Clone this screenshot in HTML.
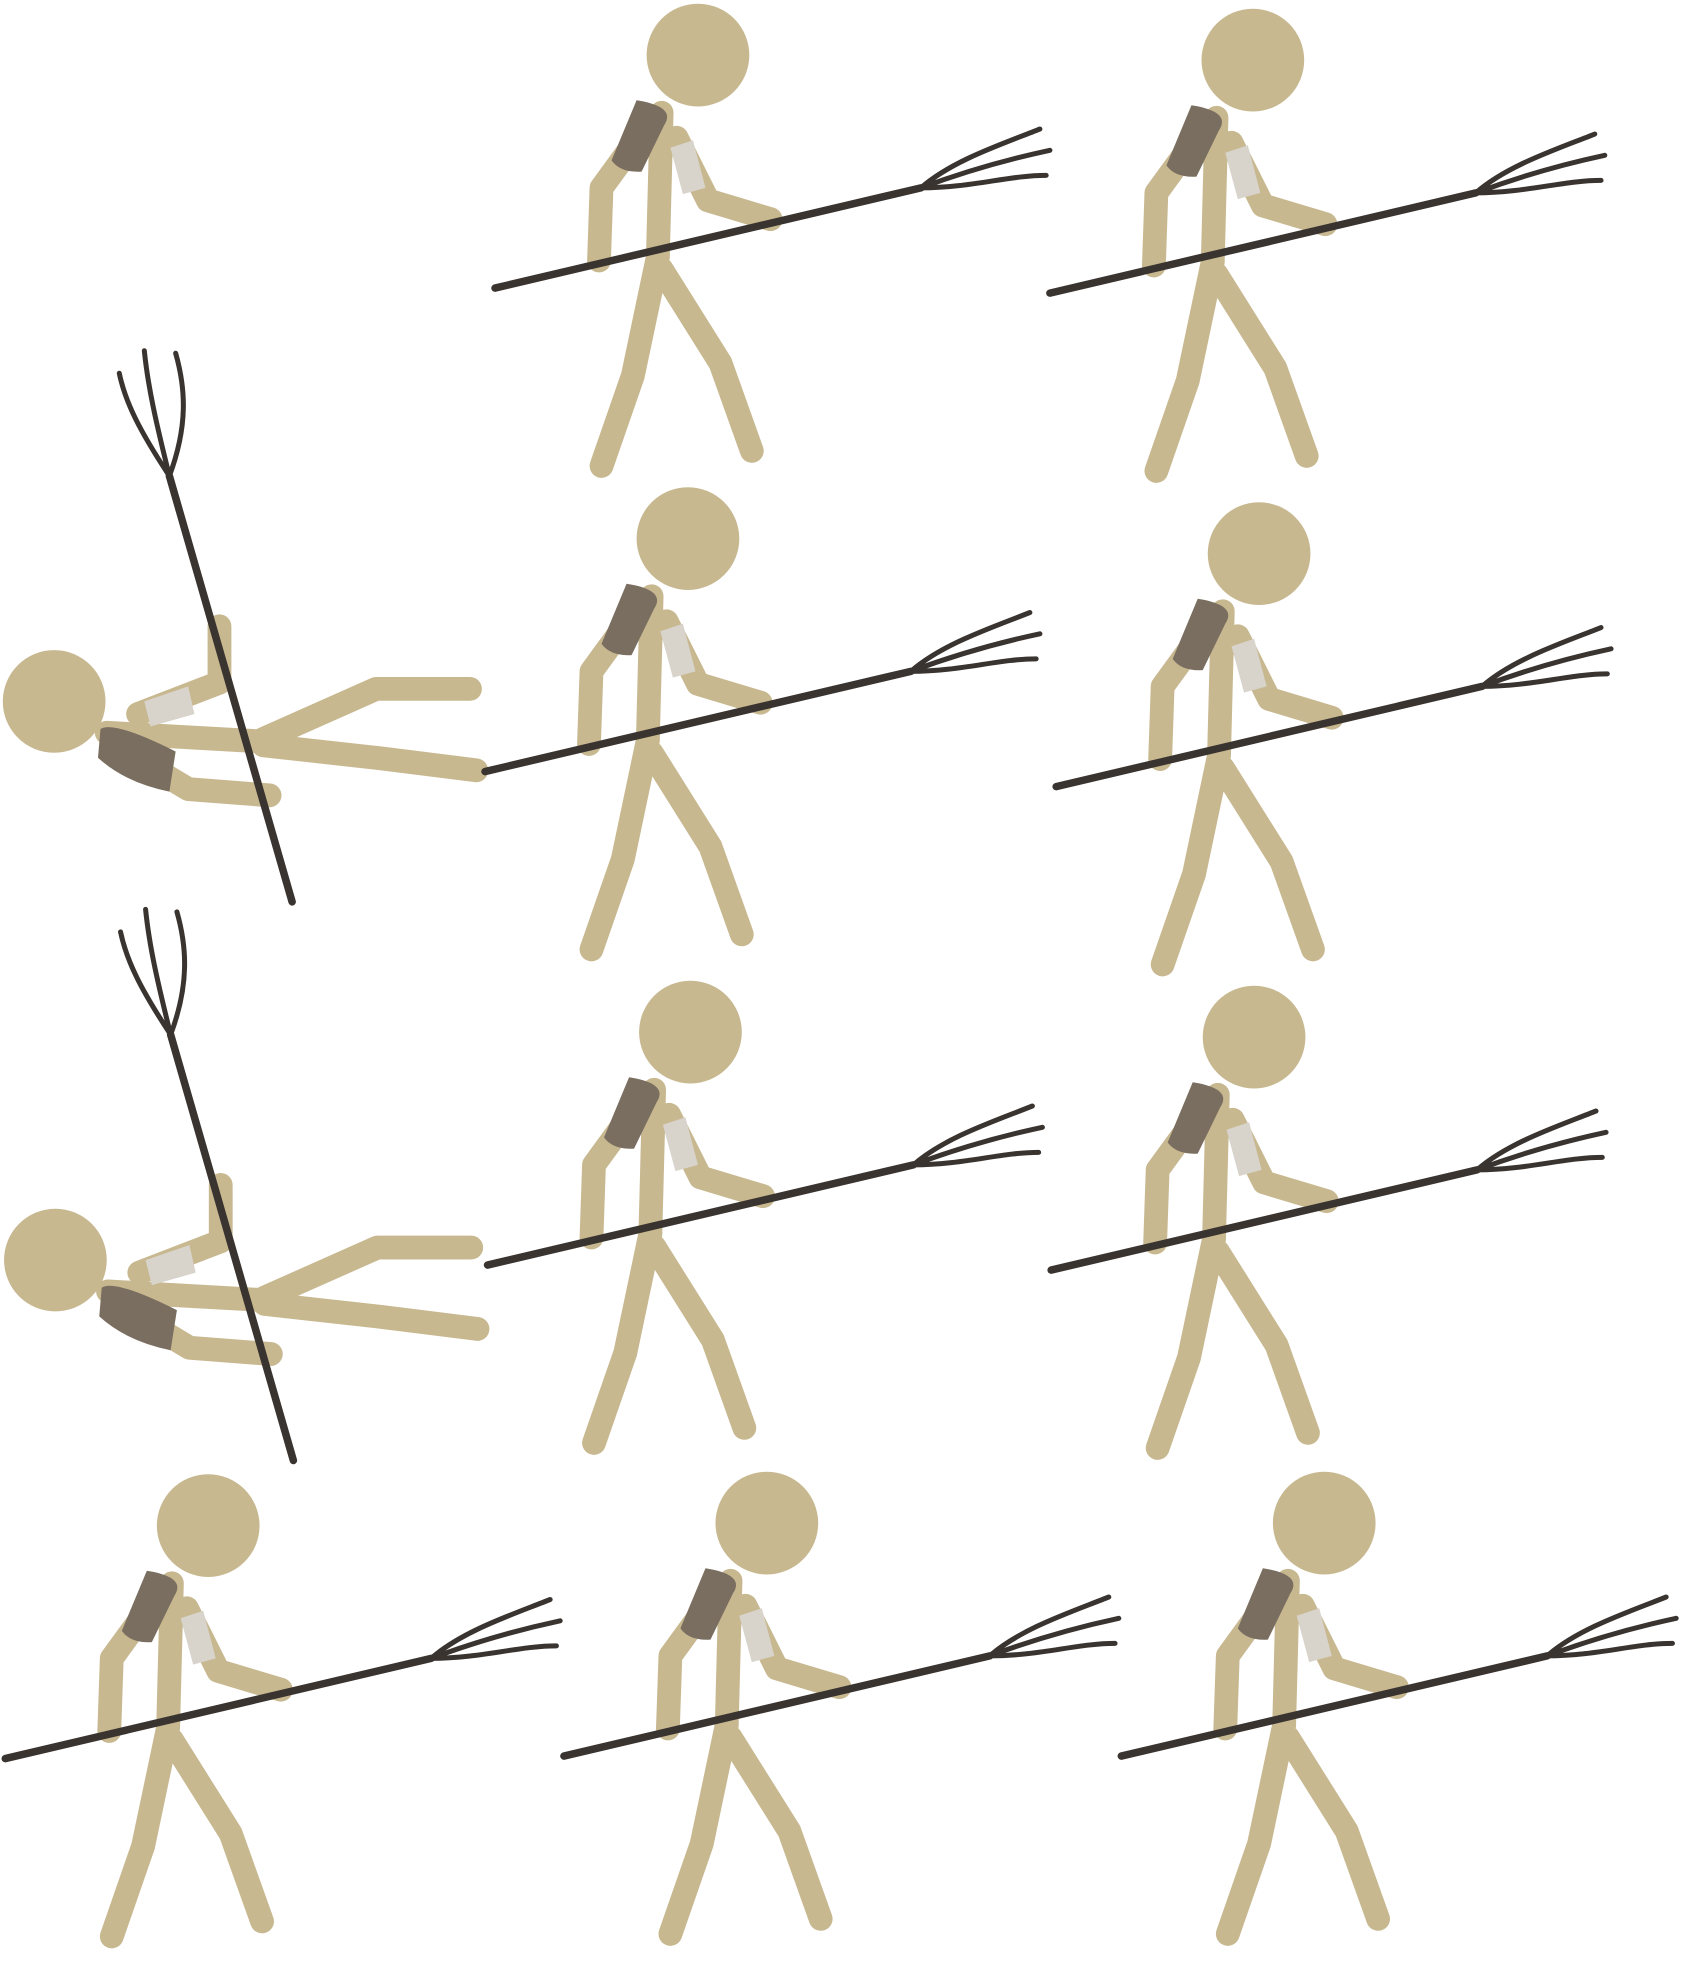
<!DOCTYPE html>
<html><head><meta charset="utf-8"><style>html,body{margin:0;padding:0;background:#fff}svg{display:block}</style></head>
<body>
<svg width="1684" height="1964" viewBox="0 0 1344 1568" xmlns="http://www.w3.org/2000/svg">
<defs>
<g id="stand" fill="none" stroke-linecap="round" stroke-linejoin="round">
  <g stroke="#c8b890" stroke-width="19">
    <path d="M528 90 L525 205"/>
    <path d="M520 95 L480 150 L478 208"/>
    <path d="M540 110 L565 160 L615 175"/>
    <path d="M525 205 L505 300 L480 372"/>
    <path d="M528 215 L575 290 L600 360"/>
  </g>
  <circle cx="557" cy="44" r="41" fill="#c8b890"/>
  <path d="M508 80 Q540 85 530 100 L512 137 Q495 138 488 128 Z" fill="#7a6e60"/>
  <path d="M535 118 L553 112 L563 150 L545 155 Z" fill="#d8d4cc"/>
  <g stroke="#3a3430" stroke-width="6">
    <path d="M395 230 L735 150"/>
  </g>
  <g stroke="#3a3430" stroke-width="4">
    <path d="M735 150 C760 128 800 115 830 103 M735 150 C775 135 810 126 838 120 M735 150 C775 150 805 140 835 140"/>
  </g>
</g>
<g id="fallen" fill="none" stroke-linecap="round" stroke-linejoin="round">
  <g stroke="#c8b890" stroke-width="19">
    <path d="M85 585 L210 592"/>
    <path d="M210 590 L300 550 L375 550"/>
    <path d="M210 595 L300 605 L380 615"/>
    <path d="M110 570 L175 545 L175 500"/>
    <path d="M100 600 L150 630 L215 635"/>
  </g>
  <circle cx="43" cy="560" r="41" fill="#c8b890"/>
  <path d="M80 582 Q90 575 140 600 L135 632 Q100 625 78 605 Z" fill="#7a6e60"/>
  <path d="M115 560 L150 548 L155 570 L120 580 Z" fill="#d8d4cc"/>
  <g stroke="#3a3430" stroke-width="6">
    <path d="M135 380 L233 720"/>
  </g>
  <g stroke="#3a3430" stroke-width="4">
    <path d="M135 380 C112 345 100 322 95 298 M135 380 C125 340 118 310 115 280 M135 380 C150 340 148 310 140 282"/>
  </g>
</g>
</defs>
<use href="#stand"/>
<use href="#stand" x="443" y="4"/>
<use href="#fallen"/>
<use href="#stand" x="-8" y="386"/>
<use href="#stand" x="448" y="398"/>
<use href="#fallen" x="1" y="446"/>
<use href="#stand" x="-6" y="780"/>
<use href="#stand" x="444" y="784"/>
<use href="#stand" x="-391" y="1174"/>
<use href="#stand" x="55" y="1172"/>
<use href="#stand" x="500" y="1172"/>
</svg>
</body></html>
